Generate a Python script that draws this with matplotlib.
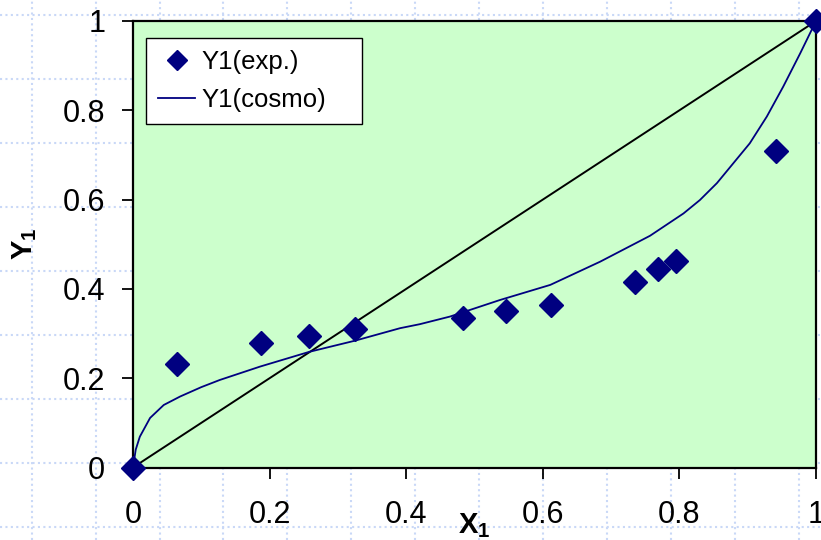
import matplotlib
matplotlib.use("Agg")
import matplotlib.pyplot as plt
from matplotlib.lines import Line2D

plt.rcParams["font.family"] = ["Liberation Sans", "DejaVu Sans"]
plt.rcParams["mathtext.fontset"] = "custom"
plt.rcParams["mathtext.rm"] = "Liberation Sans"
plt.rcParams["mathtext.bf"] = "Liberation Sans:bold"

# Experimental equilibrium data
x_exp = [0.0, 0.064, 0.187, 0.258, 0.325, 0.483, 0.546, 0.612, 0.735, 0.769, 0.795, 0.941, 1.0]
y_exp = [0.0, 0.232, 0.279, 0.294, 0.310, 0.335, 0.350, 0.364, 0.415, 0.445, 0.462, 0.709, 1.0]

# COSMO prediction
x_cosmo = [0.0, 0.004, 0.010, 0.025, 0.045, 0.069, 0.100, 0.127, 0.186, 0.258, 0.325,
           0.391, 0.420, 0.464, 0.537, 0.611, 0.684, 0.757, 0.806, 0.830, 0.855,
           0.903, 0.928, 0.952, 0.977, 1.0]
y_cosmo = [0.0, 0.040, 0.069, 0.111, 0.140, 0.159, 0.180, 0.196, 0.226, 0.259, 0.284,
           0.312, 0.321, 0.338, 0.375, 0.409, 0.461, 0.519, 0.569, 0.599, 0.637,
           0.726, 0.786, 0.853, 0.928, 1.0]

# Diagonal reference line
x_diag = [0.0, 1.0]
y_diag = [0.0, 1.0]

ticks = [0, 0.2, 0.4, 0.6, 0.8, 1]
tick_labels = ["0", "0.2", "0.4", "0.6", "0.8", "1"]

W, H = 821, 540
fig = plt.figure(figsize=(W / 100, H / 100), dpi=100)
fig.patch.set_facecolor("white")

# Graph-paper style dotted background
grid_color = "#c9d8f7"
for k in range(13):
    gx = (31.7 + 63.9 * k) / W
    fig.add_artist(Line2D([gx, gx], [0, 1], transform=fig.transFigure,
                          color=grid_color, lw=1.5, linestyle=(0, (1, 1.6)), zorder=-5))
for k in range(9):
    gy = 1 - (15 + 64 * k) / H
    fig.add_artist(Line2D([0, 1], [gy, gy], transform=fig.transFigure,
                          color=grid_color, lw=1.5, linestyle=(0, (1, 1.6)), zorder=-5))

left, right = 133 / W, 816 / W
bottom, top = 1 - 467.5 / H, 1 - 21 / H
ax = fig.add_axes([left, bottom, right - left, top - bottom])
ax.set_facecolor("#ccffcc")

navy = "#000080"
ax.plot(x_diag, y_diag, color="black", lw=1.4, zorder=2)
ax.plot(x_cosmo, y_cosmo, color=navy, lw=1.3, label="Y1(cosmo)", zorder=3)
ax.plot(x_exp, y_exp, linestyle="none", marker="D", markersize=11.8,
        color=navy, label="Y1(exp.)", zorder=4, clip_on=False)

ax.set_xlim(0, 1)
ax.set_ylim(0, 1)
ax.set_xticks(ticks)
ax.set_xticklabels(tick_labels)
ax.set_yticks(ticks)
ax.set_yticklabels(tick_labels)
ax.tick_params(axis="both", direction="out", length=8, width=1.3,
               labelsize=22, colors="black")
ax.tick_params(axis="x", pad=15.5)
ax.tick_params(axis="y", pad=12)

for s in ax.spines.values():
    s.set_linewidth(1.6)
    s.set_color("black")

ax.set_xlabel(r"$\mathbf{X_1}$", fontsize=21)
ax.xaxis.set_label_coords(0.5, (467.5 - 533) / 446.5)
ax.xaxis.label.set_verticalalignment("baseline")
ax.set_ylabel(r"$\mathbf{Y_1}$", fontsize=21)
ax.yaxis.set_label_coords((25 - 133) / 683, 0.5)
ax.yaxis.label.set_verticalalignment("center")

handles, labels = ax.get_legend_handles_labels()
order = [1, 0]
leg = ax.legend([handles[i] for i in order], [labels[i] for i in order],
                loc="upper left", bbox_to_anchor=(0.0186, 0.7716, 0.3166, 0.191),
                mode="expand", borderaxespad=0, fontsize=18.5, numpoints=1,
                fancybox=False, frameon=True, edgecolor="black", facecolor="white",
                framealpha=1, handlelength=1.45, handletextpad=0.25,
                labelspacing=0.55, borderpad=0.48, markerscale=0.9)
leg.get_frame().set_linewidth(1.0)

fig.savefig("out.png", dpi=100)
